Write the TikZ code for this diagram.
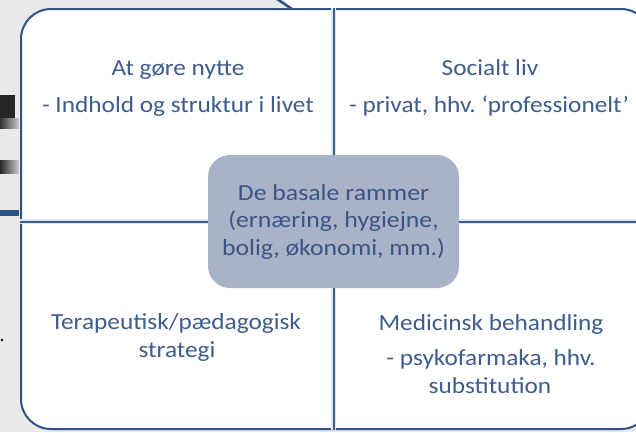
\documentclass[tikz,border=0pt]{standalone}
\usepackage{graphicx}
\usepackage{fontspec}
\setmainfont{Carlito}
\definecolor{navy}{HTML}{2F5287}
\definecolor{divider}{HTML}{3D5F8E}
\definecolor{txt}{HTML}{3E5C8C}
\definecolor{ctxt}{HTML}{3A5586}
\definecolor{centerfill}{HTML}{A9B2C6}
\definecolor{bg}{HTML}{E9E9E9}
\newcommand\wide[1]{\scalebox{1.1}[1]{#1}}
\newcommand\wider[1]{\scalebox{1.12}[1]{#1}}
\begin{document}
\begin{tikzpicture}[x=1pt,y=-1pt,
  lbl/.style={font=\fontsize{23}{28}\selectfont, text=txt, inner sep=0pt, anchor=base},
  div/.style={line width=2pt, draw=divider},
  halo/.style={line width=5pt, draw=divider!15}]
\useasboundingbox (0,0) rectangle (636,432);
\fill[bg] (0,0) rectangle (636,432);
\fill[white] (283,-1) -- (637,-1) -- (637,12) -- (295,12) -- cycle;
\draw[navy, line width=2.5pt] (277,-1) -- (292,9);
% fragments of the slide behind
\fill[black!85] (0,95) rectangle (15,125);
\shade[left color=black!80, right color=black!20] (0,118) rectangle (19,128);
\shade[left color=black!85, right color=black!20] (0,160) rectangle (19,173);
\fill[navy] (0,210) rectangle (19,216);
\fill[black] (2,340) circle (1.3);
% main frame
\node[draw=navy, line width=2pt, fill=white, rounded corners=30pt,
      minimum width=630pt, minimum height=420pt, anchor=north west, inner sep=0pt] (frame) at (20,8) {};
% centre box
\node[fill=centerfill, rounded corners=22pt, minimum width=251pt, minimum height=133pt,
      inner sep=0pt, align=center, text=ctxt, font=\fontsize{23}{27.5}\selectfont] (centre) at (333.5,221.5)
  {\wider{De basale rammer}\\\wider{(ernæring, hygiejne,}\\\wider{bolig, økonomi, mm.)}};
% dividers
\foreach \a/\b in {centre.north/{centre.north |- frame.north}, centre.south/{centre.south |- frame.south},
                   centre.west/{centre.west -| frame.west}, centre.east/{centre.east -| frame.east}}
  {\draw[halo] (\a) -- (\b); \draw[div] (\a) -- (\b);}
% quadrant texts
\node[lbl] (q1t) at (178,75) {\wide{At gøre nytte}};
\node[lbl] (q1s) at (178,112) {\wide{- Indhold og struktur i livet}};
\node[lbl] (q2t) at (490,75) {\wide{Socialt liv}};
\node[lbl] (q2s) at (489,112) {\wide{- privat, hhv.~‘professionelt’}};
\node[lbl] (q3a) at (176,329) {\wide{Terapeutisk/pædagogisk}};
\node[lbl] (q3b) at (177,357) {\wide{strategi}};
\node[lbl] (q4t) at (491,330) {\wide{Medicinsk behandling}};
\node[lbl] (q4a) at (491,365) {\wide{- psykofarmaka, hhv.}};
\node[lbl] (q4b) at (490,393) {\wide{substitution}};
\end{tikzpicture}
\end{document}
